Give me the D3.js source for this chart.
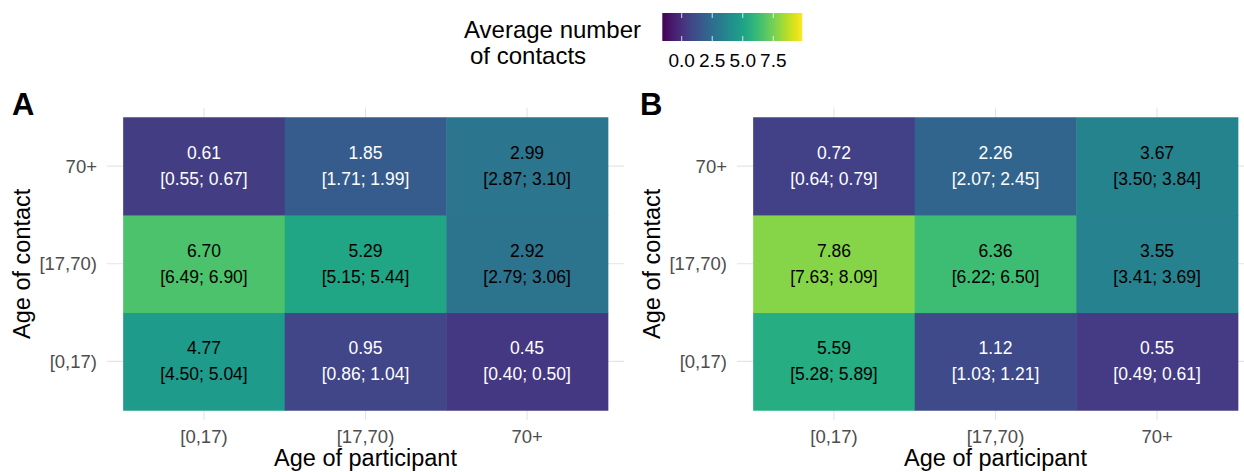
<!DOCTYPE html>
<html>
<head>
<meta charset="utf-8">
<script src="https://cdn.jsdelivr.net/npm/d3@7"></script>
<style>
  body { margin: 0; background: #fff; }
  svg { display: block; font-family: "Liberation Sans", Arial, sans-serif; }
</style>
</head>
<body>
<svg id="root"></svg>
<script>
const width = 1244,
  height = 472;

// age groups (participant on x, contact on y)
const ageGroups = ["[0,17)", "[17,70)", "70+"];

// panel A: one array per participant group, ordered by contact group
const meanA = [[4.77, 6.70, 0.61], [0.95, 5.29, 1.85], [0.45, 2.92, 2.99]];
const lowA = [[4.50, 6.49, 0.55], [0.86, 5.15, 1.71], [0.40, 2.79, 2.87]];
const highA = [[5.04, 6.90, 0.67], [1.04, 5.44, 1.99], [0.50, 3.06, 3.10]];

// panel B
const meanB = [[5.59, 7.86, 0.72], [1.12, 6.36, 2.26], [0.55, 3.55, 3.67]];
const lowB = [[5.28, 7.63, 0.64], [1.03, 6.22, 2.07], [0.49, 3.41, 3.50]];
const highB = [[5.89, 8.09, 0.79], [1.21, 6.50, 2.45], [0.61, 3.69, 3.84]];

const legendTicks = [0, 2.5, 5.0, 7.5];

const fmt = d3.format(".2f");

const toCells = (mean, low, high) => {
  const cells = [];
  ageGroups.forEach((p, i) => {
    ageGroups.forEach((c, j) => {
      cells.push({ participant: p, contact: c, value: mean[i][j], lo: low[i][j], hi: high[i][j] });
    });
  });
  return cells;
};

const panels = [
  { label: "A", cells: toCells(meanA, lowA, highA), x0: 107, x1: 624, labelX: 12 },
  { label: "B", cells: toCells(meanB, lowB, highB), x0: 737, x1: 1254, labelX: 640 },
];

const panelTop = 107.5,
  panelBottom = 420;

const color = d3.scaleSequential(d3.interpolateViridis).domain([-1.4, 9.9]);

const svg = d3.select("svg#root").attr("width", width).attr("height", height);

panels.forEach((panel) => {
  const x = d3.scaleBand().domain(ageGroups).range([panel.x0, panel.x1]).paddingOuter(0.1).paddingInner(0);
  const y = d3.scaleBand().domain(ageGroups).range([panelBottom, panelTop]).paddingOuter(0.1).paddingInner(0);

  const g = svg.append("g");

  // grid lines (theme_minimal style)
  g.selectAll("line.gx")
    .data(ageGroups)
    .join("line")
    .attr("x1", (d) => x(d) + x.bandwidth() / 2)
    .attr("x2", (d) => x(d) + x.bandwidth() / 2)
    .attr("y1", panelTop)
    .attr("y2", panelBottom)
    .attr("stroke", "#e5e5e5")
    .attr("stroke-width", 1.1);
  g.selectAll("line.gy")
    .data(ageGroups)
    .join("line")
    .attr("y1", (d) => y(d) + y.bandwidth() / 2)
    .attr("y2", (d) => y(d) + y.bandwidth() / 2)
    .attr("x1", panel.x0)
    .attr("x2", panel.x1)
    .attr("stroke", "#e5e5e5")
    .attr("stroke-width", 1.1);

  // tiles
  g.selectAll("rect")
    .data(panel.cells)
    .join("rect")
    .attr("x", (d) => x(d.participant))
    .attr("y", (d) => y(d.contact))
    .attr("width", x.bandwidth() + 0.5)
    .attr("height", y.bandwidth() + 0.5)
    .attr("fill", (d) => color(d.value));

  // cell labels
  const label = g
    .selectAll("text.cell")
    .data(panel.cells)
    .join("text")
    .attr("class", "cell")
    .attr("text-anchor", "middle")
    .attr("font-size", "17.5px")
    .attr("fill", (d) => (d.value < 2.5 ? "#ffffff" : "#000000"));
  label
    .append("tspan")
    .attr("x", (d) => x(d.participant) + x.bandwidth() / 2)
    .attr("y", (d) => y(d.contact) + y.bandwidth() / 2 - 7)
    .text((d) => fmt(d.value));
  label
    .append("tspan")
    .attr("x", (d) => x(d.participant) + x.bandwidth() / 2)
    .attr("y", (d) => y(d.contact) + y.bandwidth() / 2 + 19)
    .text((d) => `[${fmt(d.lo)}; ${fmt(d.hi)}]`);

  // axes (no ticks, no domain line)
  const xAxis = g
    .append("g")
    .attr("transform", `translate(0, ${panelBottom})`)
    .call(d3.axisBottom(x).tickSize(0).tickPadding(8));
  const yAxis = g
    .append("g")
    .attr("transform", `translate(${panel.x0}, 0)`)
    .call(d3.axisLeft(y).tickSize(0).tickPadding(10));
  [xAxis, yAxis].forEach((a) => {
    a.select(".domain").remove();
    a.selectAll("text")
      .attr("font-family", "Liberation Sans, Arial, sans-serif")
      .attr("font-size", "18.5px")
      .attr("fill", "#4d4d4d");
  });
  xAxis.selectAll("text").attr("dy", "0.8em");
  yAxis.selectAll("text").attr("dy", "0.35em");

  // axis titles
  g.append("text")
    .attr("x", (panel.x0 + panel.x1) / 2)
    .attr("y", 466)
    .attr("text-anchor", "middle")
    .attr("font-size", "23.5px")
    .attr("fill", "#000")
    .text("Age of participant");
  g.append("text")
    .attr("transform", `translate(${panel.x0 - 77}, ${(panelTop + panelBottom) / 2}) rotate(-90)`)
    .attr("text-anchor", "middle")
    .attr("font-size", "23.5px")
    .attr("fill", "#000")
    .text("Age of contact");

  // panel tag
  g.append("text")
    .attr("x", panel.labelX)
    .attr("y", 115)
    .attr("font-size", "31px")
    .attr("font-weight", "bold")
    .attr("fill", "#000")
    .text(panel.label);
});

// legend
const legend = svg.append("g");
const lx = d3.scaleLinear().domain([0, 7.5]).range([681.7, 773.3]);
const barTop = 13,
  barHeight = 28;

const defs = svg.append("defs");
const grad = defs.append("linearGradient").attr("id", "viridisGrad");
d3.range(0, 1.0001, 0.05).forEach((t) => {
  grad
    .append("stop")
    .attr("offset", `${t * 100}%`)
    .attr("stop-color", d3.interpolateViridis(t));
});

legend
  .append("rect")
  .attr("x", 662.3)
  .attr("y", barTop)
  .attr("width", 802.3 - 662.3)
  .attr("height", barHeight)
  .attr("fill", "url(#viridisGrad)");

legend
  .selectAll("line.top")
  .data(legendTicks)
  .join("line")
  .attr("x1", (d) => lx(d))
  .attr("x2", (d) => lx(d))
  .attr("y1", barTop)
  .attr("y2", barTop + 5)
  .attr("stroke", "#fff")
  .attr("stroke-opacity", 0.8);
legend
  .selectAll("line.bottom")
  .data(legendTicks)
  .join("line")
  .attr("x1", (d) => lx(d))
  .attr("x2", (d) => lx(d))
  .attr("y1", barTop + barHeight - 5)
  .attr("y2", barTop + barHeight)
  .attr("stroke", "#fff")
  .attr("stroke-opacity", 0.8);

legend
  .selectAll("text.tick")
  .data(legendTicks)
  .join("text")
  .attr("x", (d) => lx(d))
  .attr("y", 67)
  .attr("text-anchor", "middle")
  .attr("font-size", "19px")
  .attr("fill", "#000")
  .text((d) => d3.format(".1f")(d));

legend
  .append("text")
  .attr("x", 464)
  .attr("y", 38)
  .attr("font-size", "24px")
  .attr("fill", "#000")
  .text("Average number");
legend
  .append("text")
  .attr("x", 470)
  .attr("y", 64)
  .attr("font-size", "24px")
  .attr("fill", "#000")
  .text("of contacts");
</script>
</body>
</html>
